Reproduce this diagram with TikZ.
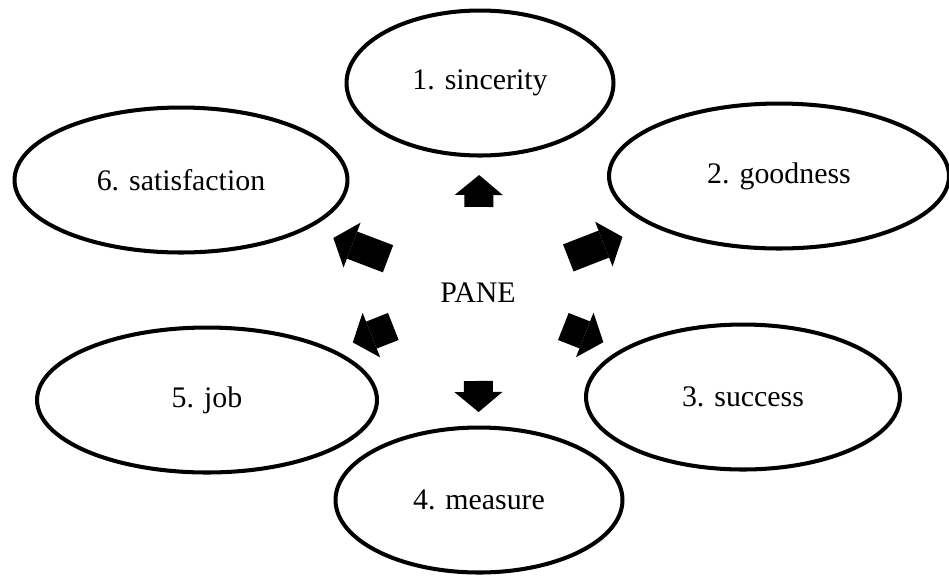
\documentclass[tikz,border=0pt]{standalone}
\usepackage{fontspec}
\setmainfont{Liberation Serif}
\usetikzlibrary{arrows.meta, calc, shapes.geometric}

\tikzset{
  bubble/.style={draw, ellipse, line width=2.3pt, minimum height=2.9cm, inner sep=0pt},
  fatarrow/.style={line width=0.58cm, -{Triangle[length=0.4cm, width=0.96cm, line width=0pt]}},
}

\begin{document}
\begin{tikzpicture}[x=0.02cm, y=-0.02cm, font=\fontsize{17}{20}\selectfont]
\useasboundingbox (0,0) rectangle (949,576);
\clip (0,0) rectangle (949,576);

% centre and the six ovals
\node (pane) at (478,293) {PANE};
\node[bubble, minimum width=5.34cm] (sinc)  at (480,83)  {1. sincerity};
\node[bubble, minimum width=6.8cm]  (good)  at (779,176) {2. goodness};
\node[bubble, minimum width=6.28cm] (succ)  at (743,397) {3. success};
\node[bubble, minimum width=5.74cm] (meas)  at (479,500) {4. measure};
\node[bubble, minimum width=6.8cm]  (job)   at (207,400) {5. job};
\node[bubble, minimum width=6.66cm] (satis) at (181,180) {6. satisfaction};

% block arrows out of PANE
\draw[fatarrow] ($(pane)!0.41!(sinc)$)   -- ($(pane)!0.562!(sinc)$);
\draw[fatarrow] ($(pane)!0.30!(good)$)   -- ($(pane)!0.48!(good)$);
\draw[fatarrow] ($(pane)!0.322!(succ)$)  -- ($(pane)!0.473!(succ)$);
\draw[fatarrow] ($(pane)!0.425!(meas)$)  -- ($(pane)!0.575!(meas)$);
\draw[fatarrow] ($(pane)!0.3125!(job)$)  -- ($(pane)!0.462!(job)$);
\draw[fatarrow] ($(pane)!0.303!(satis)$) -- ($(pane)!0.487!(satis)$);
\end{tikzpicture}
\end{document}
